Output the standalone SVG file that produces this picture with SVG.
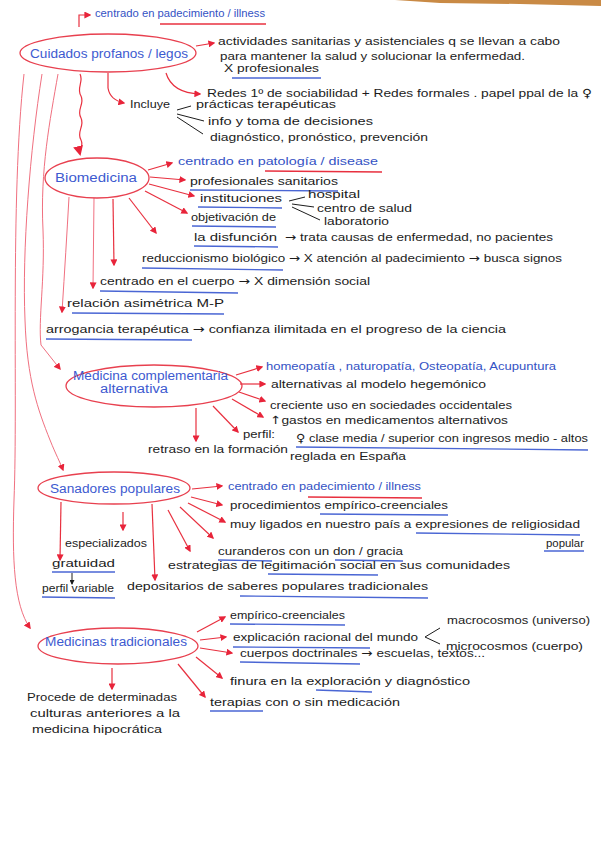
<svg xmlns="http://www.w3.org/2000/svg" width="601" height="848" viewBox="0 0 601 848">
<style>
.t{font-family:"Liberation Sans",Arial,sans-serif;font-size:11.3px;fill:#1c1c1c}
.b{font-family:"Liberation Sans",Arial,sans-serif;font-size:11.3px;fill:#3452c4}
.n{font-family:"Liberation Sans",Arial,sans-serif;font-size:12.5px;fill:#3d5ad0}
.a{font-family:"DejaVu Sans",sans-serif}
.el{fill:none;stroke:#e8404f;stroke-width:1.3}
.c{fill:none;stroke:#e8303f;stroke-width:1.2}
.cl{fill:none;stroke:#f07080;stroke-width:1}
.k{fill:none;stroke:#1c1c1c;stroke-width:1}
.ub{fill:none;stroke:#4a66d4;stroke-width:1.3}
.ur{fill:none;stroke:#e8303f;stroke-width:1.3}
</style>
<defs>
<marker id="ah" viewBox="0 0 10 10" refX="8" refY="5" markerWidth="7" markerHeight="7" markerUnits="userSpaceOnUse" orient="auto"><path d="M0,0 L10,5 L0,10 z" fill="#e8243a"/></marker>
<marker id="ahb" viewBox="0 0 10 10" refX="8" refY="5" markerWidth="10" markerHeight="10" markerUnits="userSpaceOnUse" orient="auto"><path d="M0,0 L10,5 L0,10 z" fill="#e8243a"/></marker>
<marker id="ak" viewBox="0 0 10 10" refX="8" refY="5" markerWidth="5" markerHeight="5" markerUnits="userSpaceOnUse" orient="auto"><path d="M0,0 L10,5 L0,10 z" fill="#1c1c1c"/></marker>
</defs>
<rect width="601" height="848" fill="#ffffff"/>
<path d="M395,0 L601,0 L601,6 L520,4 L440,3 Z" fill="#c98a45"/>

<g id="connectors">
<path class="c" d="M79,27 L79,15 L90,15" marker-end="url(#ah)"/>
<path class="c" d="M196,46 L214,43" marker-end="url(#ah)"/>
<path class="c" d="M166,73 Q172,93 200,94" marker-end="url(#ah)"/>
<path class="c" d="M108,73 L108,88 Q110,100 124,103" marker-end="url(#ah)"/>
<path class="c" d="M80,74 C84,82 76,88 81,96 C85,104 76,110 81,118 C85,126 76,132 81,140 C84,146 79,150 80,154" marker-end="url(#ahb)"/>
<path class="cl" d="M58,74 C50,120 40,170 43,230 C45,280 38,320 41,345 L60,369" marker-end="url(#ah)"/>
<path class="cl" d="M42,74 C30,150 22,250 25,320 C27,380 38,410 50,440 C56,455 60,462 63,470" marker-end="url(#ah)"/>
<path class="cl" d="M24,74 C10,200 18,400 14,500 C12,560 14,605 30,628" marker-end="url(#ah)"/>
<path class="c" d="M148,170 L172,163" marker-end="url(#ah)"/>
<path class="c" d="M150,177 L185,180" marker-end="url(#ah)"/>
<path class="c" d="M149,184 L194,196" marker-end="url(#ah)"/>
<path class="c" d="M145,191 L187,213" marker-end="url(#ah)"/>
<path class="c" d="M129,198 L156,233" marker-end="url(#ah)"/>
<path class="c" d="M113,199 L114,265" marker-end="url(#ah)"/>
<path class="cl" d="M94,198 L93,288" marker-end="url(#ah)"/>
<path class="cl" d="M69,197 Q66,250 62,312" marker-end="url(#ah)"/>
<path class="c" d="M236,375 L262,367" marker-end="url(#ah)"/>
<path class="c" d="M240,384 L265,384" marker-end="url(#ah)"/>
<path class="c" d="M239,392 L265,401" marker-end="url(#ah)"/>
<path class="c" d="M232,399 L263,417" marker-end="url(#ah)"/>
<path class="c" d="M213,406 L238,432" marker-end="url(#ah)"/>
<path class="c" d="M196,408 L196,441" marker-end="url(#ah)"/>
<path class="c" d="M192,489 L222,486" marker-end="url(#ah)"/>
<path class="c" d="M191,497 L222,505" marker-end="url(#ah)"/>
<path class="c" d="M188,503 L225,522" marker-end="url(#ah)"/>
<path class="c" d="M180,507 L213,538" marker-end="url(#ah)"/>
<path class="c" d="M168,510 L190,551" marker-end="url(#ah)"/>
<path class="c" d="M152,504 L155,580" marker-end="url(#ah)"/>
<path class="c" d="M123,512 L123,530" marker-end="url(#ah)"/>
<path class="c" d="M61,502 L60,560" marker-end="url(#ah)"/>
<path class="k" d="M72,573 L72,584" marker-end="url(#ak)"/>
<path class="c" d="M197,632 L225,617" marker-end="url(#ah)"/>
<path class="c" d="M200,640 L226,637" marker-end="url(#ah)"/>
<path class="c" d="M200,648 L232,653" marker-end="url(#ah)"/>
<path class="c" d="M196,657 L222,678" marker-end="url(#ah)"/>
<path class="c" d="M178,664 L205,697" marker-end="url(#ah)"/>
<path class="c" d="M112,668 L112,689" marker-end="url(#ah)"/>
</g>

<g id="top-centrado">
<text class="b" x="95" y="17" textLength="170" lengthAdjust="spacingAndGlyphs">centrado en padecimiento / illness</text>
<path class="ur" d="M160,24 L266,24"/>
</g>

<g id="cuidados">
<ellipse class="el" cx="108" cy="53" rx="88" ry="19"/>
<text class="n" x="30" y="58" textLength="158" lengthAdjust="spacingAndGlyphs">Cuidados profanos / legos</text>
</g>
<g id="cuidados-actividades">
<text class="t" x="218" y="45" textLength="342" lengthAdjust="spacingAndGlyphs">actividades sanitarias y asistenciales q se llevan a cabo</text>
<text class="t" x="220" y="60" textLength="305" lengthAdjust="spacingAndGlyphs">para mantener la salud y solucionar la enfermedad.</text>
<text class="t" x="224" y="72" textLength="95" lengthAdjust="spacingAndGlyphs">X profesionales</text>
<path class="ub" d="M232,78 L321,78"/>
</g>
<g id="cuidados-redes">
<text class="t" x="207" y="97" textLength="385" lengthAdjust="spacingAndGlyphs">Redes 1º de sociabilidad + Redes formales . papel ppal de la <tspan class="a">♀</tspan></text>
</g>
<g id="cuidados-incluye">
<text class="t" x="130" y="108" textLength="40" lengthAdjust="spacingAndGlyphs">Incluye</text>
<path class="k" d="M177,110 L191,106 M177,114 L204,121 M177,117 L203,134"/>
<text class="t" x="196" y="108" textLength="140" lengthAdjust="spacingAndGlyphs">prácticas terapéuticas</text>
<text class="t" x="208" y="125" textLength="165" lengthAdjust="spacingAndGlyphs">info y toma de decisiones</text>
<text class="t" x="210" y="141" textLength="218" lengthAdjust="spacingAndGlyphs">diagnóstico, pronóstico, prevención</text>
</g>

<g id="biomedicina">
<ellipse class="el" cx="97" cy="178" rx="52" ry="20"/>
<text class="n" x="55" y="182" textLength="82" lengthAdjust="spacingAndGlyphs">Biomedicina</text>
</g>
<g id="bio-items">
<text class="b" x="178" y="165" textLength="200" lengthAdjust="spacingAndGlyphs">centrado en patología / disease</text>
<path class="ur" d="M265,171 L382,172"/>
<text class="t" x="190" y="185" textLength="148" lengthAdjust="spacingAndGlyphs">profesionales sanitarios</text>
<path class="ub" d="M190,190 L338,191"/>
<text class="t" x="200" y="202" textLength="82" lengthAdjust="spacingAndGlyphs">instituciones</text>
<path class="ub" d="M198,207 L282,208"/>
<path class="k" d="M289,201 L305,197 M292,204 L314,207 M292,207 L320,220"/>
<text class="t" x="308" y="198" textLength="52" lengthAdjust="spacingAndGlyphs">hospital</text>
<text class="t" x="317" y="212" textLength="95" lengthAdjust="spacingAndGlyphs">centro de salud</text>
<text class="t" x="324" y="225" textLength="65" lengthAdjust="spacingAndGlyphs">laboratorio</text>
<text class="t" x="191" y="221" textLength="85" lengthAdjust="spacingAndGlyphs">objetivación de</text>
<path class="ub" d="M192,226 L276,227"/>
<text class="t" x="194" y="241" textLength="83" lengthAdjust="spacingAndGlyphs">la disfunción</text>
<path class="ub" d="M194,246 L278,247"/>
<text class="t" x="285" y="241" textLength="268" lengthAdjust="spacingAndGlyphs"><tspan class="a">→</tspan> trata causas de enfermedad, no pacientes</text>
<text class="t" x="142" y="262" textLength="420" lengthAdjust="spacingAndGlyphs">reduccionismo biológico <tspan class="a">→</tspan> X atención al padecimiento <tspan class="a">→</tspan> busca signos</text>
<path class="ub" d="M142,268 L283,270"/>
<text class="t" x="100" y="285" textLength="270" lengthAdjust="spacingAndGlyphs">centrado en el cuerpo <tspan class="a">→</tspan> X dimensión social</text>
<path class="ub" d="M100,291 L238,293"/>
<text class="t" x="67" y="307" textLength="157" lengthAdjust="spacingAndGlyphs">relación asimétrica M-P</text>
<path class="ub" d="M72,313 L224,314"/>
<text class="t" x="46" y="333" textLength="460" lengthAdjust="spacingAndGlyphs">arrogancia terapéutica <tspan class="a">→</tspan> confianza ilimitada en el progreso de la ciencia</text>
<path class="ub" d="M46,339 L192,340"/>
</g>

<g id="medicina-complementaria">
<ellipse class="el" cx="154" cy="386" rx="88" ry="21"/>
<text class="n" x="73" y="380" textLength="155" lengthAdjust="spacingAndGlyphs">Medicina complementaria</text>
<text class="n" x="100" y="393" textLength="68" lengthAdjust="spacingAndGlyphs">alternativa</text>
</g>
<g id="mc-items">
<text class="b" x="266" y="370" textLength="290" lengthAdjust="spacingAndGlyphs">homeopatía , naturopatía, Osteopatía, Acupuntura</text>
<text class="t" x="271" y="388" textLength="215" lengthAdjust="spacingAndGlyphs">alternativas al modelo hegemónico</text>
<text class="t" x="270" y="409" textLength="242" lengthAdjust="spacingAndGlyphs">creciente uso en sociedades occidentales</text>
<text class="t" x="270" y="424" textLength="238" lengthAdjust="spacingAndGlyphs"><tspan class="a">↑</tspan>gastos en medicamentos alternativos</text>
<text class="t" x="243" y="438" textLength="32" lengthAdjust="spacingAndGlyphs">perfil:</text>
<text class="t" x="296" y="442" textLength="292" lengthAdjust="spacingAndGlyphs"><tspan class="a">♀</tspan> clase media / superior con ingresos medio - altos</text>
<path class="ub" d="M296,447 L588,450"/>
<text class="t" x="148" y="453" textLength="140" lengthAdjust="spacingAndGlyphs">retraso en la formación</text>
<text class="t" x="290" y="460" textLength="116" lengthAdjust="spacingAndGlyphs">reglada en España</text>
</g>

<g id="sanadores-populares">
<ellipse class="el" cx="114" cy="488" rx="76" ry="16"/>
<text class="n" x="50" y="493" textLength="130" lengthAdjust="spacingAndGlyphs">Sanadores populares</text>
</g>
<g id="sp-items">
<text class="b" x="228" y="490" textLength="193" lengthAdjust="spacingAndGlyphs">centrado en padecimiento / illness</text>
<path class="ur" d="M308,497 L422,498"/>
<text class="t" x="230" y="509" textLength="218" lengthAdjust="spacingAndGlyphs">procedimientos empírico-creenciales</text>
<path class="ub" d="M320,514 L448,515"/>
<text class="t" x="230" y="528" textLength="350" lengthAdjust="spacingAndGlyphs">muy ligados en nuestro país a expresiones de religiosidad</text>
<path class="ub" d="M416,533 L580,535"/>
<text class="t" x="546" y="547" textLength="38" lengthAdjust="spacingAndGlyphs">popular</text>
<path class="ub" d="M544,551 L584,551"/>
<text class="t" x="218" y="555" textLength="185" lengthAdjust="spacingAndGlyphs">curanderos con un don / gracia</text>
<path class="ub" d="M218,560 L272,561 M335,560 L403,561"/>
<text class="t" x="65" y="547" textLength="82" lengthAdjust="spacingAndGlyphs">especializados</text>
<text class="t" x="52" y="567" textLength="63" lengthAdjust="spacingAndGlyphs">gratuidad</text>
<path class="ub" d="M52,572 L115,572"/>
<text class="t" x="168" y="569" textLength="342" lengthAdjust="spacingAndGlyphs">estrategias de legitimación social en sus comunidades</text>
<path class="ub" d="M268,574 L378,575"/>
<text class="t" x="42" y="592" textLength="72" lengthAdjust="spacingAndGlyphs">perfil variable</text>
<path class="ub" d="M42,597 L115,598"/>
<text class="t" x="127" y="590" textLength="301" lengthAdjust="spacingAndGlyphs">depositarios de saberes populares tradicionales</text>
<path class="ub" d="M240,596 L428,598"/>
</g>

<g id="medicinas-tradicionales">
<ellipse class="el" cx="118" cy="646" rx="80" ry="18"/>
<text class="n" x="45" y="646" textLength="142" lengthAdjust="spacingAndGlyphs">Medicinas tradicionales</text>
</g>
<g id="mt-items">
<text class="t" x="230" y="619" textLength="115" lengthAdjust="spacingAndGlyphs">empírico-creenciales</text>
<path class="ub" d="M230,624 L345,625"/>
<text class="t" x="233" y="641" textLength="185" lengthAdjust="spacingAndGlyphs">explicación racional del mundo</text>
<path class="ub" d="M233,647 L370,648"/>
<path class="k" d="M440,628 L425,637 L440,644"/>
<text class="t" x="447" y="624" textLength="143" lengthAdjust="spacingAndGlyphs">macrocosmos (universo)</text>
<text class="t" x="446" y="650" textLength="137" lengthAdjust="spacingAndGlyphs">microcosmos (cuerpo)</text>
<text class="t" x="240" y="657" textLength="245" lengthAdjust="spacingAndGlyphs">cuerpos doctrinales <tspan class="a">→</tspan> escuelas, textos...</text>
<path class="ub" d="M240,662 L360,664"/>
<text class="t" x="230" y="685" textLength="240" lengthAdjust="spacingAndGlyphs">finura en la exploración y diagnóstico</text>
<path class="ub" d="M316,690 L372,692"/>
<text class="t" x="210" y="706" textLength="190" lengthAdjust="spacingAndGlyphs">terapias con o sin medicación</text>
<path class="ub" d="M210,711 L263,711"/>
<text class="t" x="27" y="701" textLength="150" lengthAdjust="spacingAndGlyphs">Procede de determinadas</text>
<text class="t" x="30" y="717" textLength="150" lengthAdjust="spacingAndGlyphs">culturas anteriores a la</text>
<text class="t" x="32" y="733" textLength="130" lengthAdjust="spacingAndGlyphs">medicina hipocrática</text>
</g>
</svg>
